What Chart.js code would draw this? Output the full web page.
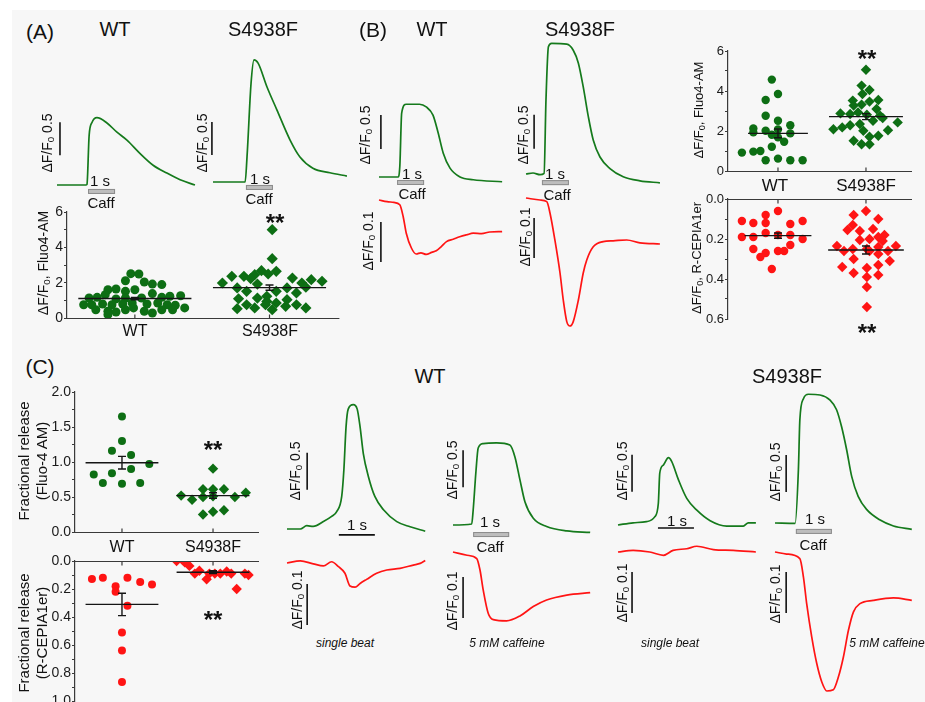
<!DOCTYPE html>
<html>
<head>
<meta charset="utf-8">
<script src="https://cdn.jsdelivr.net/npm/chart.js@4.4.0/dist/chart.umd.min.js"></script>
<style>
  html, body { margin: 0; padding: 0; background: #fff; }
  #fig { position: relative; width: 925px; height: 702px; overflow: hidden; background: #fff;
         font-family: "Liberation Sans", Arial, Helvetica, sans-serif; color: #111; }
  #bg { position: absolute; left: 12px; top: 10px; right: 0; bottom: 0; background: #f7f7f7; }
  canvas { position: absolute; }
  .t { position: absolute; white-space: nowrap; line-height: 1; transform: translate(-50%, -50%); }
  .rot { transform: translate(-50%, -50%) rotate(-90deg); text-align: center; }
  .it { font-style: italic; }
  .b { font-weight: bold; }
  sub { font-size: 70%; vertical-align: -0.25em; line-height: 0; }
</style>
</head>
<body>
<div id="fig"><div id="bg"></div></div>
<script>
// ---------- traces: time (s) and ΔF/F0 ----------
// panel A, Fluo4 caffeine
const aWtT  = [0, 1.07, 1.11, 1.19, 1.3, 1.48, 1.85, 2.22, 2.59, 3.07, 3.56, 4.07, 4.56, 5.11];
const aWtF  = [0, 0, 0.01, 0.75, 0.95, 1.02, 0.94, 0.80, 0.68, 0.48, 0.30, 0.18, 0.08, 0.0];
const aMutT = [0, 1.19, 1.26, 1.41, 1.52, 1.67, 2.0, 2.37, 2.85, 3.22, 3.7, 4.33, 4.96];
const aMutF = [0, 0, 0.38, 1.5, 1.85, 1.8, 1.44, 1.09, 0.64, 0.38, 0.21, 0.14, 0.09];

// panel B, Fluo4 (green) and R-CEPIA1er (red)
const bWtT  = [0, 0.70, 0.77, 0.84, 1.01, 1.5, 1.75, 2.0, 2.19, 2.38, 2.63, 3.0, 3.49, 4.56];
const bWtF  = [0, 0, 0.15, 0.94, 1.07, 1.07, 1.03, 0.91, 0.65, 0.35, 0.13, 0, -0.04, -0.07];
const bWtRT = [0, 0.3, 0.55, 0.77, 0.9, 1.01, 1.2, 1.38, 1.55, 1.75, 1.95, 2.12, 2.3, 2.5, 2.75, 2.99, 3.25, 3.49, 3.8, 4.1, 4.56];
const bWtR  = [0, -0.004, -0.006, -0.012, -0.043, -0.083, -0.12, -0.135, -0.132, -0.136, -0.131, -0.127, -0.117, -0.104, -0.098, -0.092, -0.087, -0.083, -0.084, -0.080, -0.079];
const bMutT = [0, 0.26, 0.52, 0.67, 0.74, 0.83, 0.95, 1.51, 1.75, 1.94, 2.12, 2.31, 2.49, 2.74, 3.11, 3.6, 4.22, 4.96];
const bMutF = [0, 0.015, -0.01, 0.01, 1.09, 1.87, 1.92, 1.91, 1.82, 1.63, 1.28, 0.84, 0.5, 0.25, 0.08, -0.04, -0.1, -0.13];
const bMutRT = [0, 0.52, 0.77, 0.89, 1.07, 1.26, 1.38, 1.51, 1.63, 1.75, 1.94, 2.12, 2.25, 2.49, 2.86, 3.23, 3.73, 4.22, 4.96];
const bMutR  = [0, -0.005, -0.009, -0.038, -0.105, -0.1875, -0.255, -0.309, -0.32, -0.309, -0.255, -0.1875, -0.155, -0.122, -0.109, -0.107, -0.105, -0.112, -0.115];

// panel C, single beat and 5 mM caffeine
const cWtBeatT  = [0, 0.37, 0.55, 0.73, 1.01, 1.24, 1.38, 1.52, 1.58, 1.64, 1.7, 1.84, 1.95, 2.03, 2.12, 2.26, 2.44, 2.68, 3.05, 3.42, 3.84];
const cWtBeatF  = [0, 0, 0.045, 0.035, 0.10, 0.17, 0.235, 0.44, 0.80, 1.38, 1.62, 1.68, 1.62, 1.38, 1.02, 0.71, 0.44, 0.26, 0.10, 0.03, -0.03];
const cWtBeatRT = [0, 0.37, 0.73, 1.01, 1.24, 1.43, 1.61, 1.75, 1.89, 2.03, 2.21, 2.49, 2.77, 3.14, 3.51, 3.7, 3.84];
const cWtBeatR  = [0, 0.005, -0.002, -0.007, 0.003, -0.009, -0.025, -0.056, -0.059, -0.05, -0.04, -0.025, -0.017, -0.013, -0.005, -0.001, 0.006];
const cWtCaffT  = [0, 0.52, 0.56, 0.64, 0.7, 0.84, 1.21, 1.58, 1.72, 1.86, 2.0, 2.23, 2.6, 3.16, 3.81];
const cWtCaffF  = [0, 0.014, 0.2, 0.74, 1.04, 1.10, 1.11, 1.08, 0.92, 0.61, 0.31, 0.09, -0.02, -0.08, -0.1];
const cWtCaffRT = [0, 0.39, 0.66, 0.75, 0.84, 0.98, 1.12, 1.49, 1.86, 2.23, 2.6, 3.16, 3.81];
const cWtCaffR  = [0, -0.008, -0.016, -0.044, -0.093, -0.15, -0.165, -0.168, -0.156, -0.133, -0.117, -0.105, -0.099];
const cMutBeatT  = [0, 0.42, 0.79, 1.02, 1.12, 1.16, 1.26, 1.4, 1.49, 1.68, 1.91, 2.19, 2.56, 3.02, 3.48, 3.62, 3.83];
const cMutBeatF  = [0, 0.03, 0.045, 0.11, 0.29, 0.70, 0.81, 0.91, 0.86, 0.61, 0.36, 0.2, 0.058, -0.014, -0.014, 0.03, 0.03];
const cMutBeatRT = [0, 0.42, 0.88, 1.26, 1.53, 1.91, 2.19, 2.65, 3.2, 3.83];
const cMutBeatR  = [0, 0.004, 0, -0.008, 0.004, 0.008, 0.014, 0.006, 0.004, 0];
const cMutCaffT  = [0, 0.56, 0.65, 0.69, 0.79, 0.93, 1.25, 1.53, 1.71, 1.85, 1.99, 2.13, 2.31, 2.55, 2.92, 3.29, 3.8];
const cMutCaffF  = [0, -0.004, 0.72, 1.39, 1.68, 1.74, 1.73, 1.66, 1.53, 1.30, 0.99, 0.63, 0.36, 0.18, 0.04, -0.04, -0.085];
const cMutCaffRT = [0, 0.32, 0.69, 0.79, 0.88, 1.02, 1.16, 1.3, 1.44, 1.62, 1.76, 1.9, 2.04, 2.18, 2.36, 2.73, 3.29, 3.8];
const cMutCaffR  = [0, -0.005, -0.016, -0.061, -0.126, -0.207, -0.272, -0.317, -0.339, -0.336, -0.305, -0.256, -0.191, -0.146, -0.126, -0.118, -0.112, -0.118];

// ---------- dot plots (jitter offset from category, value) ----------
const categories = ['WT', 'S4938F'];

const aWtJit = [-0.03, 0.03, -0.07, 0.07, 0.13, 0.20, -0.20, -0.14, 0.0, -0.07, 0.13, -0.34, -0.28, -0.22, -0.14, -0.07, 0.05, 0.20, 0.26, 0.34, -0.38, -0.32, -0.24, -0.17, -0.09, -0.02, 0.09, 0.17, 0.24, 0.30, -0.29, -0.20, -0.14, -0.07, -0.01, 0.07, 0.13, 0.20, 0.28, 0.37, -0.20];
const aWtVal = [2.51, 2.49, 2.11, 2.04, 1.92, 1.89, 1.6, 1.64, 1.6, 1.51, 1.38, 1.13, 1.17, 1.32, 1.08, 1.13, 1.13, 1.17, 1.23, 1.26, 0.75, 0.75, 0.79, 0.75, 0.79, 0.85, 0.79, 0.85, 0.75, 0.72, 0.47, 0.38, 0.34, 0.47, 0.57, 0.38, 0.28, 0.47, 0.47, 0.57, 0.19];
const aMutJit = [0.02, 0.02, -0.06, 0.05, -0.11, -0.01, -0.19, -0.28, -0.35, -0.14, 0.17, 0.31, 0.39, 0.24, -0.09, -0.24, 0.13, 0.27, -0.17, 0.05, 0.20, -0.23, -0.09, -0.02, 0.13, -0.17, -0.03, 0.05, 0.20, -0.24, -0.11, 0.02, 0.12, 0.27, -0.02];
const aMutVal = [5.0, 3.36, 2.68, 2.64, 2.45, 2.49, 2.36, 2.36, 1.98, 2.23, 2.26, 2.17, 2.08, 1.98, 1.92, 1.70, 1.70, 1.74, 1.51, 1.51, 1.42, 1.09, 1.13, 0.94, 1.04, 0.75, 0.75, 0.85, 0.75, 0.53, 0.57, 0.47, 0.66, 0.57, 1.23];
const aMeans = [1.1, 1.72];
const aSems  = [0.07, 0.15];

const bWtJit = [-0.07, 0, -0.14, -0.14, 0, 0.14, -0.28, -0.14, -0.28, 0, 0.14, -0.07, 0, 0.07, -0.07, -0.41, -0.28, -0.2, -0.14, 0, 0.14, 0.28];
const bWtVal = [4.57, 3.85, 3.55, 2.76, 2.51, 2.29, 2.13, 2.01, 1.93, 2.08, 1.88, 1.81, 1.68, 1.46, 1.21, 0.92, 0.97, 1.0, 0.54, 0.62, 0.54, 0.54];
const bMutJit = [0, -0.05, 0.04, -0.15, -0.04, 0.14, -0.14, 0.04, -0.05, 0.12, -0.29, -0.18, -0.09, 0.01, 0.16, -0.37, -0.27, -0.18, -0.07, 0.08, 0.19, 0.36, 0.25, -0.14, -0.05, 0.04, 0.14, -0.03, 0.04];
const bMutVal = [5.06, 4.27, 4.05, 3.52, 3.85, 3.55, 3.27, 3.47, 3.32, 3.10, 2.88, 2.85, 2.93, 2.81, 2.76, 2.09, 2.18, 2.29, 2.35, 2.51, 2.65, 2.43, 2.04, 1.51, 1.34, 1.34, 1.76, 2.01, 1.71];
const bMeans = [1.88, 2.72];
const bSems  = [0.22, 0.15];

const bWtRJit = [-0.41, -0.28, -0.14, 0, 0.14, 0.28, -0.14, -0.41, -0.28, -0.14, 0, 0.14, 0.28, -0.28, -0.14, 0, 0.07, 0.14, -0.2, -0.07];
const bWtRVal = [0.11, 0.12, 0.08, 0.06, 0.125, 0.11, 0.12, 0.19, 0.19, 0.17, 0.18, 0.18, 0.20, 0.25, 0.27, 0.26, 0.26, 0.23, 0.29, 0.35];
const bMutRJit = [0, -0.14, 0.14, -0.15, -0.21, -0.07, 0.08, 0.21, 0.14, 0.04, -0.07, 0.19, -0.33, -0.15, 0.01, 0.14, 0.34, -0.25, 0.04, 0.25, -0.14, 0.14, 0.27, -0.27, -0.14, 0.01, 0.14, 0.01, 0.14, 0.01, 0.01];
const bMutRVal = [0.06, 0.08, 0.10, 0.13, 0.155, 0.16, 0.15, 0.18, 0.19, 0.20, 0.205, 0.21, 0.235, 0.25, 0.25, 0.24, 0.235, 0.26, 0.26, 0.26, 0.30, 0.275, 0.31, 0.34, 0.37, 0.345, 0.33, 0.39, 0.38, 0.44, 0.54];
const bRMeans = [0.183, 0.255];
const bRSems  = [0.013, 0.02];

const cWtJit = [0, 0, -0.11, 0.1, 0.3, 0.1, -0.31, -0.11, -0.21, 0, 0.2];
const cWtVal = [1.65, 1.30, 1.16, 1.10, 0.97, 0.90, 0.82, 0.84, 0.70, 0.69, 0.70];
const cMutJit = [0, -0.35, -0.23, -0.11, -0.11, 0, 0.12, 0, 0.24, 0.36, -0.11, 0, 0.12];
const cMutVal = [0.905, 0.52, 0.46, 0.61, 0.50, 0.61, 0.61, 0.51, 0.50, 0.56, 0.25, 0.29, 0.31];
const cMeans = [0.99, 0.52];
const cSems  = [0.09, 0.04];

const cWtRJit = [-0.33, -0.21, -0.07, -0.07, 0.06, 0.2, 0.33, 0.06, 0, 0, 0];
const cWtRVal = [0.128, 0.12, 0.18, 0.22, 0.12, 0.15, 0.167, 0.32, 0.51, 0.64, 0.865];
const cMutRJit = [-0.4, -0.31, -0.26, -0.2, -0.15, -0.07, -0.04, 0.02, 0.08, 0.15, 0.2, 0.26, 0.35, 0.39];
const cMutRVal = [0.0, 0.01, 0.035, 0.09, 0.07, 0.13, 0.09, 0.09, 0.09, 0.075, 0.09, 0.20, 0.09, 0.10];
const cRMeans = [0.31, 0.08];
const cRSems  = [0.08, 0.01];

// major tick labels for each dot plot
const aYMajor  = [0, 2, 4, 6];
const bYMajor  = [0, 2, 4, 6];
const bRYMajor = [0, 0.2, 0.4, 0.6];
const cYMajor  = [0, 0.5, 1.0, 1.5, 2.0];
const cRYMajor = [0, 0.2, 0.4, 0.6, 0.8, 1.0];

// ---------- styling ----------
const FONT = '"Liberation Sans", Arial, Helvetica, sans-serif';
const GREEN = '#0d6e14';
const GREEN_LINE = '#157a1c';
const RED = '#ff1414';
Chart.defaults.font.family = FONT;
Chart.defaults.animation = false;

const fig = document.getElementById('fig');

function addCanvas(left, top, w, h) {
  const cv = document.createElement('canvas');
  cv.width = w; cv.height = h;
  cv.style.left = left + 'px'; cv.style.top = top + 'px';
  cv.style.width = w + 'px'; cv.style.height = h + 'px';
  fig.appendChild(cv);
  return cv;
}

function addText(html, x, y, size, cls) {
  const d = document.createElement('div');
  d.className = 't ' + (cls || '');
  d.style.left = x + 'px'; d.style.top = y + 'px';
  d.style.fontSize = size + 'px';
  d.innerHTML = html;
  fig.appendChild(d);
}

// scale bars and the caffeine bar, drawn in data units
function tracePlugin(deco) {
  return {
    id: 'traceDeco',
    afterDatasetsDraw(chart) {
      const { ctx, scales: { x, y } } = chart;
      ctx.save();
      ctx.strokeStyle = '#111';
      ctx.lineWidth = 1.6;
      if (deco.vbar) {
        const px = x.getPixelForValue(deco.vbar.t);
        ctx.beginPath();
        ctx.moveTo(px, y.getPixelForValue(deco.vbar.y));
        ctx.lineTo(px, y.getPixelForValue(deco.vbar.y + deco.vbar.len));
        ctx.stroke();
      }
      if (deco.hbar) {
        const py = y.getPixelForValue(deco.hbar.y);
        ctx.beginPath();
        ctx.moveTo(x.getPixelForValue(deco.hbar.t), py);
        ctx.lineTo(x.getPixelForValue(deco.hbar.t + 1), py);
        ctx.stroke();
      }
      if (deco.caff) {
        const x1 = x.getPixelForValue(deco.caff.t), x2 = x.getPixelForValue(deco.caff.t + 1);
        const py = y.getPixelForValue(deco.caff.y);
        ctx.fillStyle = '#bdbdbd';
        ctx.strokeStyle = '#8c8c8c';
        ctx.lineWidth = 1;
        ctx.fillRect(x1, py, x2 - x1, 5);
        ctx.strokeRect(x1 + 0.5, py + 0.5, x2 - x1 - 1, 4);
      }
      ctx.restore();
    }
  };
}

// box: page position of the trace origin and the pixel size of 1 s / 1 unit
function traceChart(box, t, f, color, deco) {
  const cv = addCanvas(box.left, box.top, box.w, box.h);
  new Chart(cv, {
    type: 'line',
    data: {
      datasets: [{
        data: t.map((v, i) => ({ x: v, y: f[i] })),
        borderColor: color,
        borderWidth: 1.7,
        pointRadius: 0,
        cubicInterpolationMode: 'monotone',
        fill: false
      }]
    },
    options: {
      responsive: false,
      animation: false,
      devicePixelRatio: 1,
      layout: { padding: 0 },
      plugins: { legend: { display: false }, tooltip: { enabled: false } },
      scales: {
        x: { type: 'linear', display: false,
             min: (box.left - box.x0) / box.pxs, max: (box.left + box.w - box.x0) / box.pxs },
        y: { type: 'linear', display: false,
             min: (box.base - box.top - box.h) / box.pxu, max: (box.base - box.top) / box.pxu }
      }
    },
    plugins: [tracePlugin(deco)]
  });
}

function statPlugin(st) {
  return {
    id: 'stats',
    afterDatasetsDraw(chart) {
      const { ctx, chartArea: a, scales: { x, y } } = chart;
      ctx.save();
      ctx.strokeStyle = '#3a3a3a';
      ctx.lineWidth = 1.2;
      const ya = Math.round(y.getPixelForValue(0)) + 0.5;
      ctx.beginPath();
      ctx.moveTo(a.left, ya); ctx.lineTo(a.right, ya);
      const dir = st.reverse ? 1 : -1;
      [1, 2].forEach(c => {
        const px = x.getPixelForValue(c);
        ctx.moveTo(px, ya); ctx.lineTo(px, ya + dir * 4);
      });
      ctx.stroke();

      ctx.strokeStyle = '#151515';
      ctx.lineWidth = 1.4;
      st.means.forEach((m, i) => {
        const c = i + 1;
        const cx = x.getPixelForValue(c);
        const ym = y.getPixelForValue(m);
        const y1 = y.getPixelForValue(m - st.sems[i]);
        const y2 = y.getPixelForValue(m + st.sems[i]);
        ctx.beginPath();
        ctx.moveTo(x.getPixelForValue(c - st.half[i]), ym);
        ctx.lineTo(x.getPixelForValue(c + st.half[i]), ym);
        ctx.moveTo(cx, y1); ctx.lineTo(cx, y2);
        ctx.moveTo(cx - 4, y1); ctx.lineTo(cx + 4, y1);
        ctx.moveTo(cx - 4, y2); ctx.lineTo(cx + 4, y2);
        ctx.stroke();
      });
      ctx.restore();
    }
  };
}

function dotChart(box, groups, st) {
  const cv = addCanvas(box.left, box.top, box.w, box.h);
  const datasets = groups.map((g, gi) => ({
    data: g.jit.map((j, i) => ({ x: gi + 1 + j, y: g.val[i] })),
    pointStyle: g.shape,
    pointRadius: g.r,
    pointHoverRadius: g.r,
    backgroundColor: g.color,
    borderColor: g.color,
    borderWidth: 0
  }));
  new Chart(cv, {
    type: 'scatter',
    data: { datasets },
    options: {
      responsive: false,
      animation: false,
      devicePixelRatio: 1,
      layout: { padding: { left: 0, top: box.padTop, right: box.padRight, bottom: box.padBottom } },
      plugins: { legend: { display: false }, tooltip: { enabled: false } },
      scales: {
        x: { type: 'linear', display: false, min: box.xMin, max: box.xMax },
        y: {
          type: 'linear',
          min: box.yMin, max: box.yMax,
          reverse: !!st.reverse,
          afterFit: s => { s.width = box.axisW; },
          border: { display: true, color: '#3a3a3a', width: 1.2 },
          grid: { drawOnChartArea: false, drawTicks: true, tickLength: 3, color: '#3a3a3a' },
          ticks: {
            stepSize: box.step,
            autoSkip: false,
            padding: 1,
            color: '#1a1a1a',
            font: { size: box.font, family: FONT },
            callback: v => box.major.some(m => Math.abs(m - v) < 1e-6) ? v.toFixed(box.dec) : ''
          }
        }
      }
    },
    plugins: [statPlugin(st)]
  });
}

// ---------- panel A ----------
traceChart({ left: 45, top: 100, w: 165, h: 100, x0: 57, base: 185, pxs: 27, pxu: 66 },
  aWtT, aWtF, GREEN_LINE, { vbar: { t: 0.11, y: 0.45, len: 0.5 }, caff: { t: 1.15, y: -0.06 } });
traceChart({ left: 200, top: 50, w: 150, h: 150, x0: 213, base: 182, pxs: 27, pxu: 66 },
  aMutT, aMutF, GREEN_LINE, { vbar: { t: -0.04, y: 0.41, len: 0.5 }, caff: { t: 1.22, y: -0.045 } });

dotChart({ left: 0, top: 200, w: 345, h: 135, padTop: 12, padBottom: 17, padRight: 5, axisW: 67,
           xMin: 0.496, xMax: 2.519, yMin: 0, yMax: 6, step: 1, major: aYMajor, dec: 0, font: 14 },
  [{ jit: aWtJit, val: aWtVal, color: GREEN, shape: 'circle', r: 4.5 },
   { jit: aMutJit, val: aMutVal, color: GREEN, shape: 'rectRot', r: 5.6 }],
  { means: aMeans, sems: aSems, half: [0.42, 0.42] });

// ---------- panel B ----------
traceChart({ left: 370, top: 95, w: 140, h: 100, x0: 379, base: 177, pxs: 27, pxu: 68 },
  bWtT, bWtF, GREEN_LINE, { vbar: { t: 0.07, y: 0.41, len: 0.5 }, caff: { t: 0.67, y: -0.044 } });
traceChart({ left: 370, top: 190, w: 140, h: 80, x0: 379, base: 200, pxs: 27, pxu: 400 },
  bWtRT, bWtR, RED, { vbar: { t: 0.07, y: -0.155, len: 0.1 } });
traceChart({ left: 520, top: 35, w: 145, h: 160, x0: 526, base: 174, pxs: 27, pxu: 68 },
  bMutT, bMutF, GREEN_LINE, { vbar: { t: 0.3, y: 0.37, len: 0.5 }, caff: { t: 0.59, y: -0.09 } });
traceChart({ left: 520, top: 185, w: 145, h: 150, x0: 526, base: 198, pxs: 27, pxu: 400 },
  bMutRT, bMutR, RED, { vbar: { t: 0.3, y: -0.15, len: 0.1 } });

dotChart({ left: 680, top: 40, w: 245, h: 145, padTop: 11, padBottom: 14, padRight: 13, axisW: 48,
           xMin: 0.432, xMax: 2.523, yMin: 0, yMax: 6, step: 1, major: bYMajor, dec: 0, font: 13 },
  [{ jit: bWtJit, val: bWtVal, color: GREEN, shape: 'circle', r: 4.2 },
   { jit: bMutJit, val: bMutVal, color: GREEN, shape: 'rectRot', r: 5.2 }],
  { means: bMeans, sems: bSems, half: [0.34, 0.42] });
dotChart({ left: 680, top: 188, w: 245, h: 145, padTop: 11, padBottom: 14, padRight: 13, axisW: 48,
           xMin: 0.432, xMax: 2.523, yMin: 0, yMax: 0.6, step: 0.1, major: bRYMajor, dec: 1, font: 13 },
  [{ jit: bWtRJit, val: bWtRVal, color: RED, shape: 'circle', r: 4.2 },
   { jit: bMutRJit, val: bMutRVal, color: RED, shape: 'rectRot', r: 5.2 }],
  { means: bRMeans, sems: bRSems, half: [0.38, 0.43], reverse: true });

// ---------- panel C ----------
dotChart({ left: 0, top: 380, w: 265, h: 165, padTop: 12, padBottom: 13, padRight: 6, axisW: 75,
           xMin: 0.484, xMax: 2.505, yMin: 0, yMax: 2, step: 0.25, major: cYMajor, dec: 1, font: 14 },
  [{ jit: cWtJit, val: cWtVal, color: GREEN, shape: 'circle', r: 4 },
   { jit: cMutJit, val: cMutVal, color: GREEN, shape: 'rectRot', r: 5.2 }],
  { means: cMeans, sems: cSems, half: [0.4, 0.4] });
dotChart({ left: 0, top: 549, w: 265, h: 168, padTop: 12, padBottom: 16, padRight: 6, axisW: 75,
           xMin: 0.484, xMax: 2.505, yMin: 0, yMax: 1, step: 0.1, major: cRYMajor, dec: 1, font: 14 },
  [{ jit: cWtRJit, val: cWtRVal, color: RED, shape: 'circle', r: 4 },
   { jit: cMutRJit, val: cMutRVal, color: RED, shape: 'rectRot', r: 5.2 }],
  { means: cRMeans, sems: cRSems, half: [0.4, 0.4], reverse: true });

traceChart({ left: 280, top: 395, w: 150, h: 150, x0: 287, base: 529, pxs: 36, pxu: 74 },
  cWtBeatT, cWtBeatF, GREEN_LINE, { vbar: { t: 0.56, y: 0.53, len: 0.5 }, hbar: { t: 1.44, y: -0.08 } });
traceChart({ left: 280, top: 545, w: 150, h: 85, x0: 287, base: 563, pxs: 36, pxu: 410 },
  cWtBeatRT, cWtBeatR, RED, { vbar: { t: 0.56, y: -0.151, len: 0.1 } });
traceChart({ left: 445, top: 430, w: 150, h: 115, x0: 453, base: 525, pxs: 36, pxu: 74 },
  cWtCaffT, cWtCaffF, GREEN_LINE, { vbar: { t: 0.28, y: 0.51, len: 0.5 }, caff: { t: 0.56, y: -0.095 } });
traceChart({ left: 445, top: 540, w: 150, h: 90, x0: 453, base: 552, pxs: 36, pxu: 410 },
  cWtCaffRT, cWtCaffR, RED, { vbar: { t: 0.28, y: -0.161, len: 0.1 } });
traceChart({ left: 610, top: 440, w: 150, h: 100, x0: 618, base: 525, pxs: 36, pxu: 74 },
  cMutBeatT, cMutBeatF, GREEN_LINE, { vbar: { t: 0.39, y: 0.45, len: 0.5 }, hbar: { t: 1.11, y: -0.04 } });
traceChart({ left: 610, top: 535, w: 150, h: 90, x0: 618, base: 552, pxs: 36, pxu: 410 },
  cMutBeatRT, cMutBeatR, RED, { vbar: { t: 0.39, y: -0.149, len: 0.1 } });
traceChart({ left: 770, top: 385, w: 150, h: 160, x0: 775, base: 523, pxs: 36, pxu: 74 },
  cMutCaffT, cMutCaffF, GREEN_LINE, { vbar: { t: 0.31, y: 0.42, len: 0.5 }, caff: { t: 0.58, y: -0.08 } });
traceChart({ left: 770, top: 540, w: 150, h: 160, x0: 775, base: 552, pxs: 36, pxu: 410 },
  cMutCaffRT, cMutCaffR, RED, { vbar: { t: 0.31, y: -0.149, len: 0.1 } });

// ---------- text ----------
const dF = 'ΔF/F<sub>0</sub>';
[
  ['(A)', 40, 31, 21], [categories[0], 115, 29, 20], [categories[1], 263, 29, 20],
  ['(B)', 373, 29, 21], [categories[0], 432, 29, 20], [categories[1], 580, 29, 20],
  ['(C)', 40, 366, 21], [categories[0], 430, 376, 20], [categories[1], 787, 376, 20],
  ['1 s', 100, 180, 15], ['Caff', 101, 202, 15], ['1 s', 260, 178, 15], ['Caff', 259, 198, 15],
  ['1 s', 412, 173, 15], ['Caff', 412, 193, 15], ['1 s', 555, 173, 15], ['Caff', 557, 194, 15],
  ['1 s', 357, 524, 15], ['1 s', 490, 521, 15], ['Caff', 490, 546, 15],
  ['1 s', 677, 520, 15], ['1 s', 815, 518, 15], ['Caff', 813, 544, 15],
  ['single beat', 345, 643, 12, 'it'], ['5 mM caffeine', 507, 643, 12, 'it'],
  ['single beat', 670, 643, 12, 'it'], ['5 mM caffeine', 887, 643, 12, 'it'],
  [categories[0], 135, 331, 16], [categories[1], 270, 331, 16],
  [categories[0], 775, 185, 17], [categories[1], 866, 185, 17],
  [categories[0], 122, 547, 16], [categories[1], 213, 547, 16],
  ['**', 275, 223, 24, 'b'], ['**', 867, 59, 24, 'b'], ['**', 867, 333, 24, 'b'],
  ['**', 213, 450, 24, 'b'], ['**', 213, 620, 24, 'b'],
  [dF + ' 0.5', 47, 143, 14, 'rot'], [dF + ' 0.5', 202, 143, 14, 'rot'],
  [dF + ' 0.5', 365, 135, 14, 'rot'], [dF + ' 0.1', 368, 241, 14, 'rot'],
  [dF + ' 0.5', 523, 135, 14, 'rot'], [dF + ' 0.1', 525, 237, 14, 'rot'],
  [dF + ' 0.5', 295, 471, 14, 'rot'], [dF + ' 0.1', 297, 600, 14, 'rot'],
  [dF + ' 0.5', 452, 470, 14, 'rot'], [dF + ' 0.1', 452, 601, 14, 'rot'],
  [dF + ' 0.5', 622, 471, 14, 'rot'], [dF + ' 0.1', 622, 593, 14, 'rot'],
  [dF + ' 0.5', 775, 472, 14, 'rot'], [dF + ' 0.1', 775, 594, 14, 'rot'],
  [dF + ', Fluo4-AM', 43, 263, 14, 'rot'],
  [dF + ', Fluo4-AM', 698, 110, 13, 'rot'], [dF + ', R-CEPIA1er', 696, 258, 13, 'rot'],
  ['<div style="line-height:18px">Fractional release<br>(Fluo-4 AM)</div>', 33, 461, 15, 'rot'],
  ['<div style="line-height:18px">Fractional release<br>(R-CEPIA1er)</div>', 33, 633, 15, 'rot']
].forEach(a => addText(a[0], a[1], a[2], a[3], a[4]));
</script>
</body>
</html>
